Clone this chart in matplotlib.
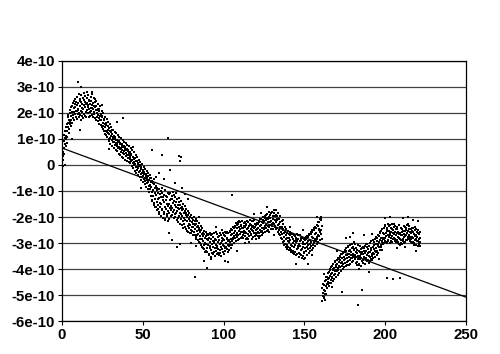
import numpy as np
import matplotlib
matplotlib.use("Agg")
import matplotlib.pyplot as plt
from matplotlib.ticker import FuncFormatter

# y values are written in units of 1e-10
Y_UNIT = 1e-10

# one row per unit of x, starting at the segment's first x;
# the samples in a row are spread evenly across that unit
rise_x0 = 0
rise_y = [
    [0.07, 0.61, 0.34, 0.92, 0.18, 0.50],
    [0.93, 0.41, 1.17, 0.66, 0.79, 1.02],
    [1.31, 0.74, 0.98, 1.46, 1.12, 0.85],
    [1.08, 1.57, 1.29, 1.83, 1.44, 1.63],
    [1.92, 1.37, 1.71, 1.24, 1.58, 2.01],
    [1.66, 2.13, 1.49, 1.87, 2.21, 1.74],
    [2.27, 1.62, 2.04, 1.81, 2.39, 1.93],
    [1.79, 2.46, 2.18, 1.71, 2.02, 2.33],
    [2.55, 1.96, 2.24, 1.83, 2.41, 2.09],
    [2.07, 1.78, 2.62, 2.31, 1.94, 2.16],
    [2.38, 2.12, 1.86, 2.71, 2.01, 2.47],
    [1.92, 2.54, 2.26, 1.74, 2.43, 2.08],
    [2.67, 2.03, 2.35, 1.89, 2.19, 2.58],
    [2.14, 1.81, 2.49, 2.29, 2.76, 1.97],
    [2.42, 2.22, 1.90, 2.64, 2.05, 2.33],
    [1.86, 2.57, 2.11, 2.39, 2.81, 2.24],
    [2.29, 2.68, 1.99, 2.16, 2.47, 1.83],
    [2.51, 2.02, 2.36, 1.88, 2.62, 2.20],
    [2.09, 2.44, 2.73, 2.18, 1.93, 2.31],
    [2.37, 1.85, 2.15, 2.58, 2.26, 2.04],
    [1.96, 2.41, 2.23, 1.79, 2.52, 2.12],
    [2.28, 1.74, 2.45, 1.99, 2.11, 1.86],
    [1.68, 2.17, 1.93, 2.36, 1.81, 2.06],
    [2.14, 1.59, 1.88, 2.27, 1.73, 1.97],
    [1.54, 1.96, 1.71, 2.09, 1.83, 1.45],
    [1.87, 1.38, 1.62, 1.99, 1.49, 1.76],
    [1.29, 1.71, 1.46, 1.85, 1.58, 1.19],
    [1.63, 1.14, 1.52, 1.31, 1.77, 1.27],
    [1.07, 1.49, 1.22, 1.66, 1.36, 1.01],
    [1.41, 0.93, 1.18, 1.57, 1.05, 1.29],
    [0.82, 1.26, 1.13, 1.44, 0.97, 1.35],
    [1.19, 0.71, 0.98, 1.34, 0.87, 1.08],
    [0.64, 1.11, 0.89, 1.27, 1.01, 0.78],
    [1.06, 0.58, 0.84, 0.95, 1.21, 0.71],
    [0.52, 0.97, 0.79, 1.16, 0.66, 0.88],
    [0.91, 0.43, 0.70, 1.08, 0.61, 0.82],
    [0.38, 0.83, 0.65, 1.02, 0.51, 0.74],
    [0.79, 0.31, 0.57, 0.96, 0.68, 0.46],
    [0.26, 0.72, 0.53, 0.90, 0.41, 0.63],
    [0.68, 0.20, 0.47, 0.85, 0.34, 0.58],
    [0.14, 0.63, 0.39, 0.77, 0.52, 0.28],
]

fall_x0 = 41
fall_y = [
    [0.59, 0.11, 0.37, 0.72, 0.45, 0.23],
    [0.06, 0.48, 0.29, 0.64, 0.17, 0.38],
    [0.44, -0.05, 0.20, 0.57, 0.31, 0.09],
    [-0.13, 0.32, 0.12, 0.49, 0.01, 0.24],
    [0.27, -0.22, 0.04, 0.40, -0.09, 0.15],
    [-0.31, 0.16, -0.07, 0.29, -0.18, 0.05],
    [0.09, -0.39, -0.12, 0.21, -0.27, -0.03],
    [-0.48, -0.01, -0.22, 0.13, -0.36, -0.14],
    [-0.08, -0.57, -0.31, 0.02, -0.46, -0.24],
    [-0.66, -0.19, -0.41, -0.06, -0.55, -0.33],
    [-0.27, -0.74, -0.49, -0.15, -0.63, -0.42],
    [-0.83, -0.36, -0.58, -0.22, -0.71, -0.50],
    [-0.43, -0.94, -0.66, -0.31, -0.80, -0.57],
    [-1.05, -0.52, -0.77, -0.39, -0.91, -0.65],
    [-0.49, -1.21, -0.86, -1.04, -0.63, -1.33],
    [-1.38, -0.68, -0.95, -1.19, -0.54, -1.47],
    [-0.74, -1.52, -1.06, -0.88, -1.31, -1.61],
    [-1.63, -0.79, -1.14, -1.42, -0.97, -1.72],
    [-0.87, -1.70, -1.31, -1.06, -1.55, -1.80],
    [-1.89, -0.94, -1.28, -1.63, -1.12, -1.46],
    [-1.01, -1.96, -1.51, -1.22, -1.74, -0.88],
    [-1.68, -1.09, -2.02, -1.36, -1.23, -1.87],
    [-1.14, -1.79, -1.41, -2.08, -0.97, -1.62],
    [-2.11, -1.33, -1.71, -1.19, -1.88, -1.50],
    [-1.25, -1.97, -1.58, -2.16, -1.06, -1.77],
    [-1.84, -1.13, -1.49, -2.07, -1.36, -1.67],
    [-1.08, -1.74, -1.32, -1.98, -1.57, -1.21],
    [-1.93, -1.29, -1.64, -1.02, -1.47, -1.81],
    [-1.39, -2.04, -1.16, -1.72, -1.55, -1.90],
    [-1.99, -1.22, -1.61, -1.83, -1.08, -1.44],
    [-1.31, -2.12, -1.78, -1.52, -2.03, -1.65],
    [-2.19, -1.44, -1.69, -1.96, -1.27, -1.86],
    [-1.53, -2.27, -1.88, -1.64, -2.08, -1.38],
    [-2.32, -1.61, -1.97, -1.74, -2.16, -1.49],
    [-1.71, -2.41, -2.05, -1.83, -2.26, -1.59],
    [-2.37, -1.78, -2.13, -1.92, -2.48, -1.68],
    [-1.84, -2.52, -2.17, -1.99, -2.33, -1.76],
    [-2.58, -1.93, -2.26, -2.44, -2.07, -1.85],
    [-2.01, -2.63, -2.31, -2.15, -2.49, -1.92],
    [-2.62, -2.04, -2.37, -2.19, -2.55, -2.28],
    [-2.11, -2.71, -2.40, -2.26, -2.58, -1.99],
    [-2.69, -2.16, -2.47, -2.31, -2.77, -2.08],
    [-2.26, -2.84, -2.53, -2.39, -2.68, -2.17],
    [-2.88, -2.33, -2.64, -2.49, -2.95, -2.24],
    [-2.42, -3.01, -2.72, -2.57, -2.86, -2.34],
    [-3.07, -2.51, -2.83, -2.66, -3.15, -2.44],
    [-2.61, -3.19, -2.92, -2.74, -3.06, -2.53],
    [-3.24, -2.67, -2.98, -2.81, -3.33, -2.59],
    [-2.72, -3.31, -3.03, -2.86, -3.18, -2.64],
]

plateau_x0 = 90
plateau_y = [
    [-3.36, -2.71, -3.09, -2.88, -3.47, -2.64],
    [-2.79, -3.42, -2.95, -3.21, -2.62, -3.13],
    [-3.27, -2.85, -3.52, -2.69, -3.04, -3.38],
    [-2.66, -3.15, -2.91, -3.44, -2.78, -3.01],
    [-3.33, -2.92, -2.61, -3.18, -3.49, -2.83],
    [-2.87, -3.29, -3.06, -2.58, -3.12, -3.41],
    [-3.18, -2.64, -3.37, -2.97, -2.75, -3.23],
    [-2.73, -3.46, -2.89, -3.25, -3.02, -2.60],
    [-3.39, -2.98, -2.70, -3.14, -3.51, -2.81],
    [-2.94, -3.22, -2.63, -3.35, -2.86, -3.08],
    [-3.11, -2.68, -3.43, -2.90, -3.20, -2.57],
    [-2.72, -3.31, -3.00, -2.61, -3.17, -2.84],
    [-3.24, -2.79, -2.56, -3.06, -2.91, -3.35],
    [-2.63, -3.12, -2.88, -3.27, -2.52, -2.97],
    [-3.08, -2.57, -2.83, -2.45, -3.19, -2.71],
    [-2.49, -2.94, -2.66, -3.07, -2.38, -2.81],
    [-2.86, -2.42, -3.01, -2.60, -2.74, -2.33],
    [-2.37, -2.79, -2.55, -2.93, -2.24, -2.68],
    [-2.76, -2.29, -2.62, -2.44, -2.89, -2.18],
    [-2.25, -2.71, -2.38, -2.83, -2.53, -2.14],
    [-2.66, -2.19, -2.47, -2.32, -2.81, -2.58],
    [-2.34, -2.77, -2.16, -2.59, -2.43, -2.70],
    [-2.81, -2.41, -2.63, -2.22, -2.52, -2.35],
    [-2.18, -2.56, -2.74, -2.39, -2.86, -2.27],
    [-2.60, -2.30, -2.48, -2.79, -2.14, -2.67],
    [-2.43, -2.84, -2.21, -2.55, -2.36, -2.73],
    [-2.72, -2.25, -2.58, -2.11, -2.65, -2.46],
    [-2.29, -2.68, -2.40, -2.83, -2.51, -2.17],
    [-2.55, -2.17, -2.76, -2.33, -2.62, -2.44],
    [-2.12, -2.61, -2.38, -2.74, -2.26, -2.50],
    [-2.69, -2.31, -2.85, -2.48, -2.22, -2.62],
    [-2.26, -2.73, -2.44, -2.59, -2.80, -2.18],
    [-2.63, -2.15, -2.51, -2.33, -2.72, -2.08],
    [-2.07, -2.56, -2.29, -2.68, -2.43, -2.19],
    [-2.52, -2.10, -2.63, -2.24, -2.01, -2.41],
    [-2.16, -2.47, -1.97, -2.58, -2.33, -2.05],
    [-2.43, -1.94, -2.29, -2.11, -2.55, -2.02],
    [-1.88, -2.36, -2.07, -2.49, -2.21, -1.79],
    [-2.39, -2.01, -2.57, -2.18, -1.92, -2.30],
    [-2.04, -2.45, -2.15, -1.85, -2.34, -2.27],
    [-2.31, -1.81, -2.22, -2.48, -1.98, -2.09],
    [-1.86, -2.27, -1.74, -2.13, -2.40, -1.97],
    [-2.35, -1.93, -2.18, -1.72, -2.46, -2.06],
    [-1.96, -2.44, -2.13, -2.57, -1.83, -2.29],
    [-2.49, -2.08, -2.65, -2.26, -1.97, -2.38],
    [-2.21, -2.69, -2.41, -2.82, -2.57, -2.14],
    [-2.83, -2.37, -2.66, -2.49, -2.95, -2.28],
    [-2.46, -2.91, -2.63, -3.07, -2.78, -2.39],
    [-3.02, -2.58, -2.85, -2.69, -3.16, -2.47],
    [-2.62, -3.09, -2.81, -3.24, -2.93, -2.55],
    [-3.15, -2.67, -2.96, -2.79, -3.28, -2.58],
    [-2.70, -3.20, -2.87, -3.06, -2.61, -3.33],
    [-3.26, -2.78, -3.11, -2.66, -2.99, -3.39],
    [-2.84, -3.30, -2.69, -3.17, -2.91, -3.42],
    [-3.35, -2.73, -3.08, -2.88, -3.47, -2.97],
    [-2.79, -3.22, -3.44, -2.94, -2.65, -3.13],
    [-3.18, -2.86, -2.71, -3.37, -3.03, -3.52],
    [-2.92, -3.41, -3.12, -2.68, -3.26, -2.81],
    [-3.47, -2.90, -3.23, -2.79, -3.58, -3.05],
    [-2.95, -3.50, -3.17, -3.33, -2.84, -3.62],
    [-3.38, -2.87, -3.56, -3.04, -3.21, -2.78],
    [-2.83, -3.29, -3.01, -3.47, -2.72, -3.16],
    [-3.24, -2.76, -3.09, -2.91, -3.40, -2.65],
    [-2.69, -3.18, -2.87, -3.32, -3.02, -2.58],
    [-3.13, -2.64, -2.96, -2.75, -3.27, -2.51],
    [-2.58, -3.06, -2.79, -3.20, -2.44, -2.92],
    [-2.99, -2.51, -2.85, -2.64, -3.13, -2.38],
    [-2.43, -2.92, -2.61, -3.04, -2.77, -2.30],
    [-2.86, -2.34, -2.69, -2.18, -2.97, -2.49],
    [-2.21, -2.73, -2.45, -2.90, -2.08, -2.59],
    [-2.67, -2.12, -2.51, -2.02, -2.84, -2.33],
]

recover_x0 = 161
recover_y = [
    [-5.24, -4.73, -5.02, -4.58, -4.91, -5.13],
    [-4.62, -5.09, -4.81, -4.47, -4.96, -5.18],
    [-4.83, -4.41, -4.67, -4.95, -4.32, -4.58],
    [-4.29, -4.71, -4.48, -4.17, -4.59, -4.38],
    [-4.52, -4.12, -4.36, -4.64, -4.04, -4.27],
    [-4.01, -4.43, -4.19, -4.55, -3.92, -4.31],
    [-4.34, -3.89, -4.16, -3.98, -4.47, -4.05],
    [-3.82, -4.24, -3.97, -4.38, -4.09, -3.74],
    [-4.18, -3.71, -4.03, -3.86, -4.31, -3.93],
    [-3.66, -4.09, -3.81, -4.22, -3.58, -3.96],
    [-4.04, -3.61, -3.87, -3.73, -4.17, -3.52],
    [-3.49, -3.93, -3.67, -4.06, -3.78, -3.44],
    [-3.87, -3.41, -3.72, -3.56, -3.99, -3.35],
    [-3.38, -3.81, -3.54, -3.94, -3.67, -3.26],
    [-3.76, -3.32, -3.61, -3.47, -3.89, -3.19],
    [-3.29, -3.72, -3.45, -3.84, -3.58, -3.16],
    [-3.12, -3.71, -3.30, -3.55, -3.86, -3.41],
    [-3.64, -3.27, -3.81, -3.09, -3.46, -3.58],
    [-3.33, -3.02, -3.57, -3.74, -3.19, -3.48],
    [-3.70, -3.41, -3.16, -3.52, -2.96, -3.27],
    [-3.24, -3.61, -3.47, -3.05, -3.78, -3.36],
    [-3.55, -3.18, -3.73, -3.39, -3.28, -3.83],
    [-3.08, -3.49, -3.62, -3.85, -3.31, -3.57],
    [-3.79, -3.36, -3.13, -3.60, -3.51, -3.22],
    [-3.42, -3.88, -3.56, -3.20, -3.69, -3.35],
    [-3.66, -3.15, -3.44, -3.77, -3.30, -3.59],
    [-3.21, -3.52, -3.80, -3.38, -3.11, -3.67],
    [-3.58, -3.29, -3.05, -3.71, -3.45, -3.17],
    [-3.04, -3.65, -3.40, -3.23, -3.76, -3.33],
    [-3.49, -3.12, -3.68, -3.36, -2.99, -3.55],
    [-3.18, -3.60, -3.26, -2.94, -3.44, -3.67],
    [-3.51, -2.89, -3.37, -3.14, -3.59, -3.06],
    [-2.97, -3.43, -3.22, -3.55, -2.83, -3.31],
    [-3.36, -3.05, -2.78, -3.21, -3.47, -2.92],
    [-2.82, -3.29, -3.11, -2.68, -3.02, -3.38],
    [-3.17, -2.74, -2.95, -3.26, -2.59, -2.88],
    [-2.63, -3.08, -2.81, -2.52, -3.15, -2.94],
    [-2.96, -2.47, -2.79, -3.03, -2.61, -2.85],
    [-2.44, -2.83, -3.01, -2.66, -2.36, -2.92],
    [-2.79, -2.32, -2.61, -2.95, -2.74, -2.49],
    [-2.55, -2.98, -2.41, -2.70, -2.87, -2.28],
    [-2.91, -2.52, -2.77, -2.35, -2.63, -3.00],
    [-2.30, -2.69, -2.93, -2.58, -2.44, -2.81],
    [-2.73, -2.96, -2.47, -2.25, -2.86, -2.60],
    [-2.51, -2.27, -2.80, -2.65, -2.38, -2.92],
    [-2.84, -2.59, -2.36, -2.97, -2.70, -2.45],
    [-2.39, -2.88, -2.62, -2.48, -3.01, -2.76],
    [-2.95, -2.56, -2.29, -2.81, -2.67, -3.04],
    [-2.61, -3.07, -2.85, -2.43, -2.99, -2.70],
    [-2.88, -2.46, -3.03, -2.71, -2.57, -2.93],
    [-2.52, -2.83, -2.64, -3.00, -2.35, -2.78],
    [-2.97, -2.37, -2.74, -2.55, -2.87, -2.49],
    [-2.42, -2.71, -2.90, -2.31, -2.63, -2.82],
    [-2.77, -2.54, -2.26, -2.86, -2.45, -2.68],
    [-2.33, -2.92, -2.59, -2.75, -2.96, -2.47],
    [-2.85, -2.63, -2.41, -2.99, -2.54, -2.78],
    [-2.58, -2.96, -2.80, -2.44, -3.06, -2.67],
    [-3.01, -2.49, -2.72, -2.89, -2.38, -2.83],
    [-2.69, -3.08, -2.46, -2.93, -2.77, -2.57],
    [-2.91, -2.62, -3.12, -2.50, -2.85, -2.99],
    [-2.64, -3.03, -2.81, -2.95, -2.58, -3.10],
]

# stray points away from the main band
stray_x = [0, 0.5, 2, 6, 10, 12, 18.5, 11, 34, 38, 55.5, 62, 65.6, 72.5, 73, 73.5,
           58, 60, 63, 67, 70, 74, 76, 78, 66, 68, 71, 73, 80, 83, 85, 88, 82,
           90, 92, 95, 99, 101, 103, 105, 108, 113, 119, 127, 137, 145, 152,
           158, 160.5, 162, 167, 170, 173, 176, 180, 183, 185.6, 187, 190, 196,
           200, 201, 203, 205, 207, 209, 211, 214, 217, 219,
           25, 29, 44, 49, 116, 123, 131, 141, 149, 155, 178, 184, 192, 198, 212, 220]
stray_y = [0.9, -0.05, 0.0, 1.0, 3.2, 3.0, 2.8, 1.35, 1.65, 1.8, 0.58, 0.38, 1.05, 0.35, 0.15, 0.3,
           -0.45, -0.3, -0.55, -0.2, -0.7, -0.9, -1.1, -1.3, -2.6, -2.9, -3.15, -3.05, -3.0, -3.1, -2.0, -3.7, -4.3,
           -3.95, -3.6, -2.4, -2.5, -3.7, -3.72, -1.15, -3.3, -3.0, -1.9, -1.6, -2.1, -3.8, -3.8,
           -2.0, -2.0, -4.2, -4.7, -3.3, -4.9, -2.8, -2.6, -5.4, -4.8, -2.7, -4.1, -3.6,
           -2.05, -4.35, -2.0, -4.4, -3.2, -4.35, -2.05, -2.0, -2.1, -3.3,
           2.3, 0.6, 0.7, -0.9, -2.95, -1.85, -2.7, -2.4, -2.5, -3.45, -2.75, -4.0, -2.65, -3.25, -3.15, -2.15]

# linear trendline as shown on the chart (slope per x unit, intercept), units of 1e-10
trend_coef = [-0.02292, 0.65]
trend_range = [0, 250]

xs, ys = [], []
for x0, rows in [(rise_x0, rise_y), (fall_x0, fall_y), (plateau_x0, plateau_y), (recover_x0, recover_y)]:
    for i, row in enumerate(rows):
        n = len(row)
        xs.extend([x0 + i + k / n for k in range(n)])
        ys.extend(row)
xs.extend(stray_x)
ys.extend(stray_y)
xs = np.array(xs, dtype=float)
ys = np.array(ys) * Y_UNIT

trend_x = np.array(trend_range, dtype=float)
trend_y = np.polyval(trend_coef, trend_x) * Y_UNIT

plt.rcParams["font.family"] = ["Liberation Sans", "DejaVu Sans"]

fig = plt.figure(figsize=(5, 3.54), dpi=100)
ax = fig.add_axes([0.124, 0.093, 0.808, 0.735])

ax.scatter(xs, ys, s=4.5, marker="s", color="black", linewidths=0, zorder=3)
ax.plot(trend_x, trend_y, color="black", linewidth=0.9, zorder=4)

ax.set_xlim(0, 250)
ax.set_ylim(-6e-10, 4e-10)
ax.set_xticks([0, 50, 100, 150, 200, 250])
ax.set_yticks(np.arange(-6, 5) * Y_UNIT)
ax.yaxis.set_major_formatter(FuncFormatter(lambda v, p: "0" if abs(v) < 1e-15 else f"{v:.0e}"))

ax.yaxis.grid(True, color="#404040", linewidth=0.9)
ax.set_axisbelow(True)
for s in ax.spines.values():
    s.set_color("black")
    s.set_linewidth(0.9)
ax.tick_params(direction="out", length=3, width=0.8, labelsize=10.8, pad=2)
for lab in ax.get_xticklabels() + ax.get_yticklabels():
    lab.set_fontweight("bold")

fig.savefig("out.png", dpi=100)
